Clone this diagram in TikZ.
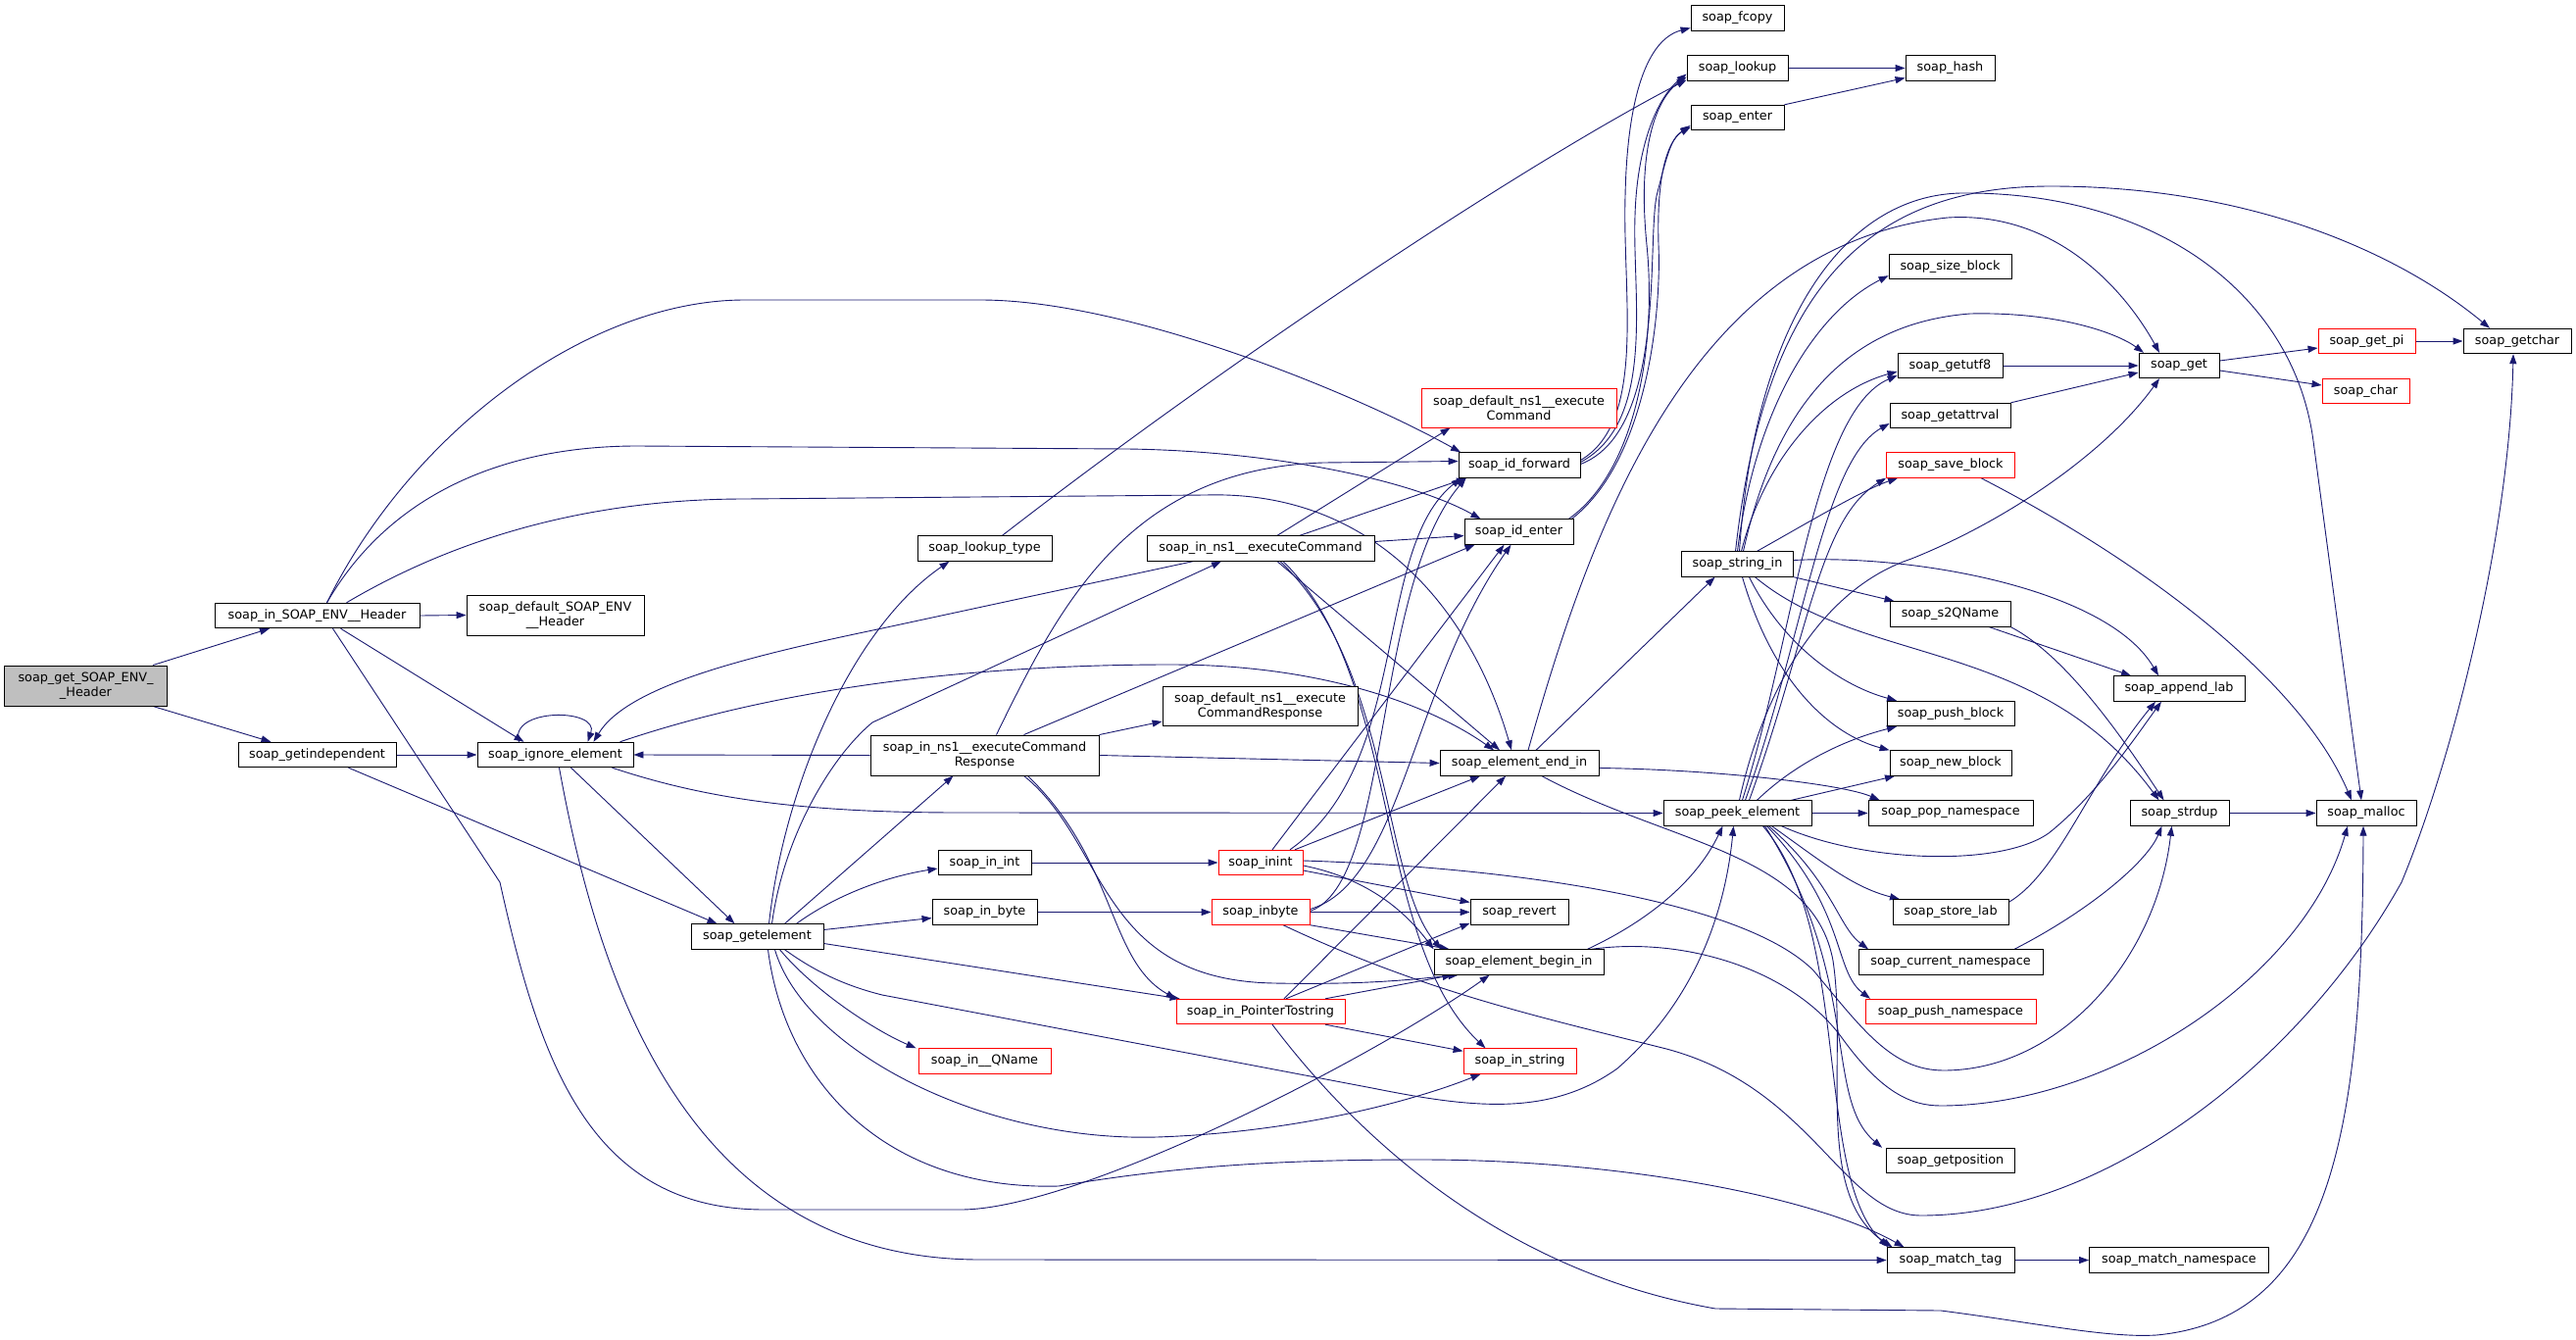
\documentclass[tikz,border=0pt]{standalone}
\usepackage{fontspec}
\setmainfont{DejaVu Sans}
\usetikzlibrary{arrows.meta}
\definecolor{edgeblue}{RGB}{25,25,112}
\definecolor{rootgray}{RGB}{191,191,191}
\pgfdeclarelayer{bg}
\pgfsetlayers{bg,main}
\tikzset{
  fnode/.style={draw=black, line width=0.9pt, fill=white, inner sep=0pt, minimum height=25.5pt, align=center, font=\fontsize{12.8}{15}\selectfont},
  fred/.style={fnode, draw=red},
  call/.style={draw=edgeblue, line width=0.9pt, -{Triangle[length=10pt,width=7pt]}}
}
\begin{document}
\begin{tikzpicture}[x=1pt,y=-1pt]
\useasboundingbox (0,0) rectangle (2628,1367);
% nodes
\node[fnode, fill=rootgray, minimum width=166pt, minimum height=41pt] (root) at (87.5,699.5) {soap\_get\_SOAP\_ENV\_\\\_Header};
\node[fnode, minimum width=209pt] (inHdr) at (323.5,628) {soap\_in\_SOAP\_ENV\_\_Header};
\node[fnode, minimum width=181pt, minimum height=41pt] (defHdr) at (566.5,627.5) {soap\_default\_SOAP\_ENV\\\_\_Header};
\node[fnode, minimum width=161pt] (getind) at (323.5,770) {soap\_getindependent};
\node[fnode, minimum width=159pt] (ignore) at (566.5,770) {soap\_ignore\_element};
\node[fnode, minimum width=135pt] (getel) at (772.5,955.5) {soap\_getelement};
\node[fnode, minimum width=137pt] (lookuptype) at (1004.5,559.5) {soap\_lookup\_type};
\node[fnode, minimum width=232pt] (inExec) at (1286,559.5) {soap\_in\_ns1\_\_executeCommand};
\node[fnode, minimum width=199pt, minimum height=40pt] (defExecResp) at (1285.5,720) {soap\_default\_ns1\_\_execute\\CommandResponse};
\node[fnode, minimum width=233pt, minimum height=41pt] (inExecResp) at (1004.5,770.5) {soap\_in\_ns1\_\_executeCommand\\Response};
\node[fnode, minimum width=95pt] (inInt) at (1004.5,880) {soap\_in\_int};
\node[fnode, minimum width=107pt] (inByte) at (1004.5,930.5) {soap\_in\_byte};
\node[fred, minimum width=135pt] (inQName) at (1004.5,1082.5) {soap\_in\_\_QName};
\node[fred, minimum width=172pt] (inPtr) at (1286,1032) {soap\_in\_PointerTostring};
\node[fred, minimum width=86pt] (inint) at (1286,880) {soap\_inint};
\node[fred, minimum width=100pt] (inbyte) at (1286,930.5) {soap\_inbyte};
\node[fred, minimum width=199pt, minimum height=40pt] (defExec) at (1549.5,416) {soap\_default\_ns1\_\_execute\\Command};
\node[fnode, minimum width=124pt] (idfwd) at (1550,474.5) {soap\_id\_forward};
\node[fnode, minimum width=111pt] (identer) at (1549.5,542.5) {soap\_id\_enter};
\node[fnode, minimum width=162pt] (endin) at (1550,778.5) {soap\_element\_end\_in};
\node[fnode, minimum width=100pt] (revert) at (1550,930.5) {soap\_revert};
\node[fnode, minimum width=173pt] (beginin) at (1549.5,981.5) {soap\_element\_begin\_in};
\node[fred, minimum width=115pt] (instring) at (1550.5,1082.5) {soap\_in\_string};
\node[fnode, minimum width=95pt] (fcopy) at (1772.5,18.5) {soap\_fcopy};
\node[fnode, minimum width=103pt] (lookup) at (1772.5,69.5) {soap\_lookup};
\node[fnode, minimum width=95pt] (enter) at (1772.5,120) {soap\_enter};
\node[fnode, minimum width=91pt] (hash) at (1989.5,69.5) {soap\_hash};
\node[fnode, minimum width=114pt] (stringin) at (1772.5,575.5) {soap\_string\_in};
\node[fnode, minimum width=151pt] (peek) at (1772.5,829.5) {soap\_peek\_element};
\node[fnode, minimum width=125pt] (sizeblock) at (1989.5,272) {soap\_size\_block};
\node[fnode, minimum width=107pt] (getutf) at (1989.5,373) {soap\_getutf8};
\node[fnode, minimum width=123pt] (getattrval) at (1989.5,424) {soap\_getattrval};
\node[fred, minimum width=131pt] (saveblock) at (1990,474.5) {soap\_save\_block};
\node[fnode, minimum width=123pt] (s2q) at (1989.5,626.5) {soap\_s2QName};
\node[fnode, minimum width=130pt] (pushblock) at (1990,728) {soap\_push\_block};
\node[fnode, minimum width=124pt] (newblock) at (1990,778.5) {soap\_new\_block};
\node[fnode, minimum width=168pt] (popns) at (1990,829.5) {soap\_pop\_namespace};
\node[fnode, minimum width=118pt] (storelab) at (1990,930.5) {soap\_store\_lab};
\node[fnode, minimum width=188pt] (curns) at (1990,981.5) {soap\_current\_namespace};
\node[fred, minimum width=174pt] (pushns) at (1990,1032) {soap\_push\_namespace};
\node[fnode, minimum width=131pt] (getpos) at (1990,1184) {soap\_getposition};
\node[fnode, minimum width=130pt] (matchtag) at (1990,1285.5) {soap\_match\_tag};
\node[fnode, minimum width=183pt] (matchns) at (2223,1285.5) {soap\_match\_namespace};
\node[fnode, minimum width=82pt] (get) at (2223,373) {soap\_get};
\node[fnode, minimum width=134pt] (appendlab) at (2223,702.5) {soap\_append\_lab};
\node[fnode, minimum width=101pt] (strdup) at (2223.5,829.5) {soap\_strdup};
\node[fnode, minimum width=102pt] (malloc) at (2414,829.5) {soap\_malloc};
\node[fred, minimum width=99pt] (getpi) at (2414.5,348) {soap\_get\_pi};
\node[fred, minimum width=89pt] (chr) at (2413.5,399) {soap\_char};
\node[fnode, minimum width=110pt] (getchar) at (2568,348) {soap\_getchar};

\begin{pgfonlayer}{bg}
\fill[white] (0,0) rectangle (2628,1367);
% root
\draw[call] ([xshift=-15pt]root.north east) -- ([xshift=-48.5pt]inHdr.south);
\draw[call] ([xshift=-15pt]root.south east) -- ([xshift=-47pt]getind.north);
% soap_in_SOAP_ENV__Header
\draw[call] (inHdr.east) -- (defHdr.west);
\draw[call] ([xshift=24pt]inHdr.south) -- ([xshift=-32pt]ignore.north);
\draw[call] ([xshift=10pt]inHdr.north) .. controls (420,440) and (600,306) .. (760,306) -- (1000,306) .. controls (1150,306) and (1380,400) .. ([xshift=-60pt]idfwd.north);
\draw[call] ([xshift=10pt]inHdr.north) .. controls (400,500) and (520,455) .. (650,455) -- (1150,458) .. controls (1300,460) and (1440,490) .. ([xshift=-39pt]identer.north);
\draw[call] ([xshift=30pt]inHdr.north) .. controls (480,540) and (620,509) .. (760,509) -- (1230,505) .. controls (1400,500) and (1500,620) .. ([xshift=-8pt]endin.north);
\draw[call] ([xshift=16pt]inHdr.south) -- (510,900) .. controls (550,1080) and (600,1234) .. (780,1234) -- (980,1234) .. controls (1100,1234) and (1400,1080) .. ([xshift=-30pt]beginin.south);
% getindependent
\draw[call] (getind.east) -- (ignore.west);
\draw[call] ([xshift=32pt]getind.south) -- ([xshift=-41pt]getel.north);
% ignore_element
\draw[call] ([xshift=-37pt]ignore.north) .. controls (518,722) and (612,722) .. ([xshift=33pt]ignore.north);
\draw[call] ([xshift=16pt]ignore.south) -- ([xshift=-23pt]getel.north);
\draw[call] ([xshift=58pt]ignore.south) .. controls (720,815) and (820,829) .. (980,829) -- (peek.west);
\draw[call] ([xshift=66pt]ignore.north) .. controls (800,700) and (1000,678) .. (1194,678) .. controls (1350,678) and (1460,720) .. ([xshift=-26pt]endin.north);
\draw[call] ([xshift=4pt]ignore.south) .. controls (610,1000) and (700,1285) .. (1000,1285) -- (matchtag.west);
% getelement
\draw[call] ([xshift=12pt]getel.north) .. controls (800,800) and (870,640) .. ([xshift=-36pt]lookuptype.south);
\draw[call] ([xshift=15pt]getel.north) .. controls (800,850) and (850,770) .. (890,737) -- ([xshift=-40pt]inExec.south);
\draw[call] ([xshift=28pt]getel.north) -- ([xshift=-32pt]inExecResp.south);
\draw[call] ([xshift=40pt]getel.north) .. controls (850,915) and (900,895) .. ([yshift=-6pt]inInt.west);
\draw[call] ([yshift=7pt]getel.east) -- ([yshift=-6pt]inByte.west);
\draw[call] ([yshift=-7pt]getel.east) -- ([xshift=4pt]inPtr.north west);
\draw[call] ([xshift=23pt]getel.south) .. controls (830,1010) and (890,1050) .. ([xshift=-2pt]inQName.north west);
\draw[call] ([xshift=18pt]getel.south) .. controls (820,1070) and (1000,1165) .. (1180,1160) .. controls (1330,1155) and (1450,1120) .. ([xshift=-40pt]instring.south);
\draw[call] ([xshift=11pt]getel.south) .. controls (800,1100) and (900,1215) .. (1080,1210) .. controls (1200,1190) and (1300,1183) .. (1450,1183) .. controls (1650,1183) and (1850,1220) .. ([xshift=18pt]matchtag.north west);
\draw[call] ([xshift=28pt]getel.south) .. controls (830,990) and (860,1005) .. (900,1015) -- (1400,1110) .. controls (1500,1130) and (1580,1140) .. (1650,1090) .. controls (1730,1020) and (1760,930) .. ([xshift=-4pt]peek.south);
% lookup_type
\draw[call] ([xshift=18pt]lookuptype.north) .. controls (1250,370) and (1550,170) .. ([yshift=-12pt]lookup.west);
% executeCommandResponse
\draw[call] (inExecResp.west) -- (ignore.east);
\draw[call] (inExecResp.north east) -- ([yshift=-16pt]defExecResp.west);
\draw[call] (inExecResp.east) -- (endin.west);
\draw[call] ([xshift=40pt]inExecResp.north) -- ([xshift=-45pt]identer.south);
\draw[call] ([xshift=12pt]inExecResp.north) .. controls (1080,620) and (1150,478) .. (1350,472) -- ([yshift=4pt]idfwd.west);
\draw[call] ([xshift=40pt]inExecResp.south) .. controls (1130,860) and (1120,1000) .. (1300,1003) .. controls (1400,1005) and (1450,998) .. ([xshift=-62pt]beginin.south);
\draw[call] ([xshift=44pt]inExecResp.south) .. controls (1140,880) and (1130,980) .. (inPtr.north west);
% executeCommand
\draw[call] ([xshift=-69pt]inExec.south) -- (900,641) .. controls (760,670) and (640,700) .. ([xshift=39pt]ignore.north);
\draw[call] ([xshift=17pt]inExec.north) -- ([xshift=-70pt]defExec.south);
\draw[call] ([xshift=40pt]inExec.north) -- ([xshift=-54pt]idfwd.south);
\draw[call] ([yshift=7pt]inExec.east) -- ([yshift=-4pt]identer.west);
\draw[call] ([xshift=17pt]inExec.south) -- ([xshift=-20pt]endin.north);
\draw[call] ([xshift=20pt]inExec.south) .. controls (1420,680) and (1410,900) .. ([xshift=8pt]beginin.north west);
\draw[call] ([xshift=23pt]inExec.south) .. controls (1430,690) and (1400,960) .. ([xshift=-35pt]instring.north);
% in_int / in_byte
\draw[call] (inInt.east) -- (inint.west);
\draw[call] (inByte.east) -- (inbyte.west);
% inint
\draw[call] ([xshift=35pt]inint.north) -- ([xshift=-40pt]endin.south);
\draw[call] ([xshift=12pt]inint.north) -- ([xshift=-15pt]identer.south);
\draw[call] ([xshift=30pt]inint.north) .. controls (1440,780) and (1400,560) .. ([xshift=3pt]idfwd.south west);
\draw[call] ([yshift=-8pt]inint.east) -- ([yshift=10pt]revert.west);
\draw[call] ([yshift=-3pt]inint.east) .. controls (1390,895) and (1430,925) .. (beginin.north west);
\draw[call] ([yshift=2pt]inint.east) .. controls (1550,885) and (1780,920) .. (1850,990) .. controls (1900,1050) and (1930,1092) .. (1983,1092) .. controls (2100,1092) and (2200,980) .. ([xshift=-8pt]strdup.south);
% inbyte
\draw[call] (inbyte.east) -- (revert.west);
\draw[call] (inbyte.south east) -- ([xshift=16pt]beginin.north west);
\draw[call] ([yshift=3pt]inbyte.east) .. controls (1430,900) and (1440,700) .. ([xshift=-8pt]identer.south);
\draw[call] ([yshift=1pt]inbyte.east) .. controls (1420,900) and (1400,600) .. ([xshift=8pt]idfwd.south west);
\draw[call] ([xshift=23pt]inbyte.south) .. controls (1450,1010) and (1560,1035) .. (1700,1070) .. controls (1850,1110) and (1880,1240) .. (1960,1240) .. controls (2150,1240) and (2350,1080) .. (2450,900) .. controls (2500,780) and (2560,550) .. ([xshift=-4pt]getchar.south);
% in_PointerTostring
\draw[call] ([xshift=66pt]inPtr.north) -- ([xshift=-68pt]beginin.south);
\draw[call] ([xshift=26pt]inPtr.north) -- ([yshift=2pt]revert.south west);
\draw[call] ([xshift=24pt]inPtr.north) -- ([xshift=-14pt]endin.south);
\draw[call] ([xshift=66pt]inPtr.south) -- ([yshift=-3pt]instring.north west);
\draw[call] ([xshift=12pt]inPtr.south) .. controls (1400,1180) and (1550,1300) .. (1750,1335) -- (1980,1337) .. controls (2080,1350) and (2150,1365) .. (2200,1362) .. controls (2380,1345) and (2410,1150) .. ([xshift=-3pt]malloc.south);
% peek_element
\draw[call] ([xshift=20pt]peek.north) .. controls (1830,780) and (1880,755) .. ([xshift=-55pt]pushblock.south);
\draw[call] ([xshift=55pt]peek.north) -- ([xshift=-57pt]newblock.south);
\draw[call] (peek.east) -- (popns.west);
\draw[call] ([xshift=5pt]peek.north) .. controls (1830,650) and (1850,420) .. ([yshift=-10pt]getutf.west);
\draw[call] ([xshift=8pt]peek.north) .. controls (1840,650) and (1860,470) .. ([yshift=-8pt]getattrval.west);
\draw[call] ([xshift=12pt]peek.north) .. controls (1845,650) and (1855,530) .. (saveblock.south west);
\draw[call] ([xshift=2pt]peek.north) .. controls (1800,700) and (1860,600) .. (1950,570) .. controls (2050,530) and (2150,460) .. ([xshift=-20pt]get.south);
\draw[call] ([xshift=45pt]peek.south) .. controls (1900,880) and (2040,885) .. (2090,850) .. controls (2140,810) and (2180,750) .. ([xshift=-18pt]appendlab.south);
\draw[call] ([xshift=35pt]peek.south) .. controls (1860,880) and (1890,905) .. ([xshift=-52pt]storelab.north);
\draw[call] ([xshift=32pt]peek.south) .. controls (1870,900) and (1875,945) .. ([xshift=-84pt]curns.north);
\draw[call] ([xshift=30pt]peek.south) .. controls (1885,930) and (1870,990) .. ([xshift=-82pt]pushns.north);
\draw[call] ([xshift=28pt]peek.south) .. controls (1900,1000) and (1860,1120) .. ([xshift=-70pt]getpos.north);
\draw[call] ([xshift=26pt]peek.south) .. controls (1890,950) and (1850,1200) .. ([xshift=2pt]matchtag.north west);
% element_end_in
\draw[call] ([xshift=23pt]endin.south) .. controls (1700,860) and (1850,870) .. (1870,980) .. controls (1885,1080) and (1850,1220) .. ([xshift=6pt]matchtag.north west);
\draw[call] ([xshift=17pt]endin.north) -- ([xshift=-23pt]stringin.south);
\draw[call] ([xshift=9pt]endin.north) .. controls (1620,550) and (1720,250) .. (1987,222) .. controls (2100,215) and (2170,300) .. ([xshift=-20pt]get.north);
\draw[call] ([yshift=-5pt]endin.east) .. controls (1750,785) and (1880,800) .. ([xshift=12pt]popns.north west);
% element_begin_in
\draw[call] ([xshift=70pt]beginin.north) .. controls (1680,940) and (1730,900) .. ([xshift=-15pt]peek.south);
\draw[call] ([xshift=74pt]beginin.north) .. controls (1720,955) and (1830,990) .. (1880,1060) .. controls (1920,1115) and (1950,1128) .. (1980,1128) .. controls (2150,1128) and (2350,1000) .. ([xshift=-19pt]malloc.south);
% id_forward / id_enter
\draw[call] ([yshift=5pt]idfwd.east) .. controls (1680,430) and (1655,300) .. (1658,200) .. controls (1660,100) and (1680,40) .. ([yshift=-10pt]fcopy.west);
\draw[call] ([yshift=3pt]idfwd.east) .. controls (1690,430) and (1665,300) .. (1668,220) .. controls (1670,150) and (1690,100) .. ([yshift=-6pt]lookup.west);
\draw[call] ([yshift=1pt]idfwd.east) .. controls (1700,440) and (1680,250) .. (1690,200) .. controls (1700,160) and (1705,140) .. ([yshift=-10pt]enter.west);
\draw[call] ([xshift=-5pt]identer.north east) .. controls (1670,480) and (1690,350) .. (1680,250) .. controls (1670,150) and (1690,100) .. ([yshift=-9pt]lookup.west);
\draw[call] ([xshift=-2pt]identer.north east) .. controls (1680,470) and (1695,320) .. (1692,250) .. controls (1690,180) and (1700,145) .. ([yshift=-8pt]enter.west);
% lookup / enter
\draw[call] (lookup.east) -- (hash.west);
\draw[call] (enter.north east) -- ([yshift=-10pt]hash.west);
% string_in
\draw[call] (stringin.north) .. controls (1790,420) and (1850,320) .. ([yshift=4pt]sizeblock.south west);
\draw[call] ([xshift=4pt]stringin.north) .. controls (1800,470) and (1860,400) .. ([yshift=-6pt]getutf.west);
\draw[call] ([xshift=6pt]stringin.north) .. controls (1810,420) and (1880,330) .. (2010,320) .. controls (2100,318) and (2160,340) .. ([xshift=-36pt]get.north);
\draw[call] ([xshift=2pt]stringin.north) .. controls (1790,330) and (1880,200) .. (2000,197) .. controls (2200,195) and (2340,300) .. (2360,450) .. controls (2380,600) and (2400,750) .. ([xshift=-5pt]malloc.north);
\draw[call] ([xshift=-2pt]stringin.north) .. controls (1800,300) and (1900,190) .. (2092,190) .. controls (2300,190) and (2450,260) .. ([xshift=-28pt]getchar.north);
\draw[call] ([xshift=20pt]stringin.north) .. controls (1850,530) and (1900,500) .. ([xshift=12pt]saveblock.south west);
\draw[call] (stringin.south east) -- ([xshift=5pt]s2q.north west);
\draw[call] ([yshift=4pt]stringin.east) .. controls (1950,565) and (2150,600) .. ([xshift=-21pt]appendlab.north);
\draw[call] ([xshift=12pt]stringin.south) .. controls (1820,660) and (1880,700) .. ([xshift=-55pt]pushblock.north);
\draw[call] ([xshift=5pt]stringin.south) .. controls (1810,700) and (1870,750) .. (newblock.north west);
\draw[call] ([xshift=18pt]stringin.south) .. controls (1900,680) and (2080,650) .. ([xshift=-21pt]strdup.north);
% right part
\draw[call] (getutf.east) -- (get.west);
\draw[call] (getattrval.north east) -- ([yshift=-7pt]get.west);
\draw[call] ([yshift=5pt]get.east) -- ([yshift=-7pt]getpi.west);
\draw[call] ([yshift=-5pt]get.east) -- ([yshift=6pt]chr.west);
\draw[call] (getpi.east) -- (getchar.west);
\draw[call] ([xshift=31pt]saveblock.south) .. controls (2200,580) and (2350,700) .. ([xshift=-15pt]malloc.north);
\draw[call] ([xshift=40pt]s2q.south) -- ([xshift=-49pt]appendlab.north);
\draw[call] (s2q.south east) .. controls (2110,670) and (2170,760) .. ([xshift=-16pt]strdup.north);
\draw[call] (strdup.east) -- (malloc.west);
\draw[call] ([yshift=-3pt]storelab.north east) .. controls (2100,890) and (2130,800) .. ([xshift=-24pt]appendlab.south);
\draw[call] ([xshift=65pt]curns.north) .. controls (2130,930) and (2190,880) .. ([xshift=-18pt]strdup.south);
\draw[call] (matchtag.east) -- (matchns.west);
\end{pgfonlayer}
\end{tikzpicture}
\end{document}
